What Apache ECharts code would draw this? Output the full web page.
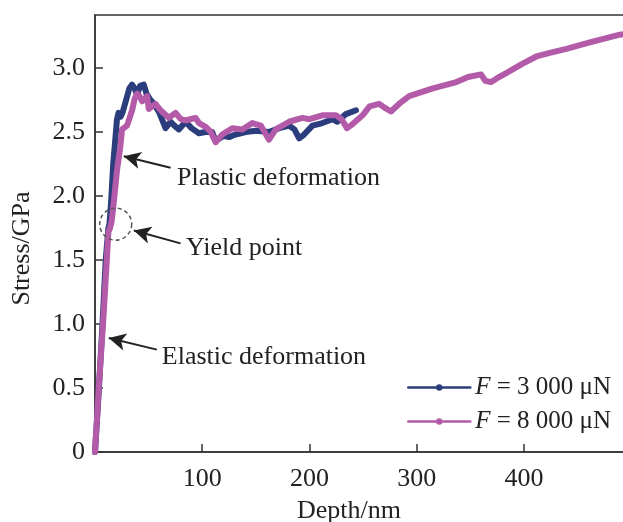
<!DOCTYPE html>
<html>
<head>
<meta charset="utf-8">
<script src="https://cdn.jsdelivr.net/npm/echarts@6/dist/echarts.min.js"></script>
<style>
html,body{margin:0;padding:0;background:#fff;}
#chart{width:623px;height:522px;}
</style>
</head>
<body>
<div id="chart"></div>
<script>
// ---- data ----
const seriesNames = ['F = 3 000 μN', 'F = 8 000 μN'];
const depth3000 = [0,3,7,10,12.5,13.5,15,17,19,20.5,22,24,26,29,32,34.6,37,39.3,42,45.5,48,51.8,55,60,65.8,70.5,74,78.2,84.5,90,96.9,103,109.3,112.5,120,125,131,140.6,150,162,172,181,186,190.4,195,202.8,212,221.5,226,234,243.4];
const stress3000 = [0,0.4,1.0,1.5,1.75,1.78,1.95,2.25,2.45,2.6,2.65,2.62,2.66,2.75,2.84,2.87,2.84,2.79,2.86,2.87,2.8,2.75,2.72,2.65,2.53,2.58,2.55,2.52,2.58,2.53,2.49,2.5,2.5,2.43,2.47,2.46,2.48,2.5,2.51,2.5,2.53,2.55,2.52,2.45,2.48,2.55,2.57,2.6,2.58,2.64,2.67];
const depth8000 = [0,3.5,7.5,11,12.5,14,15.5,17.5,20.5,23.7,25.2,29.9,34.6,37,39.3,41.5,43.9,48.6,50.2,56.4,61.1,65,68.9,75.1,80,84.5,93.8,97,103.2,108,112.5,118.7,128,137.4,146.7,154.6,162.3,168.6,181,193.4,200,212,224.7,230,235,240,249.6,256,265,270,276,285,293,315,337,348,360,364,369.5,375,383.5,398,411.6,425,439.6,461.4,475,489.4,497];
const stress8000 = [0,0.5,1.0,1.5,1.72,1.75,1.8,1.95,2.2,2.39,2.52,2.55,2.67,2.76,2.8,2.78,2.74,2.78,2.68,2.72,2.67,2.64,2.61,2.65,2.6,2.59,2.61,2.57,2.54,2.5,2.42,2.48,2.53,2.52,2.57,2.55,2.44,2.52,2.58,2.61,2.6,2.63,2.63,2.6,2.53,2.56,2.63,2.7,2.72,2.69,2.66,2.73,2.78,2.84,2.89,2.93,2.95,2.9,2.89,2.92,2.96,3.03,3.09,3.12,3.15,3.2,3.23,3.26,3.27];
const xTicks = [100,200,300,400];
const yTicks = [0,0.5,1.0,1.5,2.0,2.5,3.0];
// annotations: label text, arrow tail, arrow tip, text anchor (data coords)
const annotations = [
  {text:'Plastic deformation', tail:[70.5,2.22], tip:[26.8,2.31], at:[76.5,2.14]},
  {text:'Yield point', tail:[79.8,1.63], tip:[36.2,1.73], at:[84.8,1.59]},
  {text:'Elastic deformation', tail:[57.7,0.80], tip:[12.8,0.89], at:[62.3,0.74]}
];
const yieldCircle = [19.3,1.78];

const FONT = '"Liberation Serif","Times New Roman",serif';
const zip = (a,b)=>a.map((v,i)=>[v,b[i]]);

const chart = echarts.init(document.getElementById('chart'));
chart.setOption({
  animation:false,
  backgroundColor:'#fff',
  grid:{left:95,right:-6,top:15,bottom:70,outerBoundsMode:'none',containLabel:false,
    show:true,borderColor:'#333',borderWidth:1.5,backgroundColor:'transparent'},
  xAxis:{
    type:'value',min:0,max:498,
    name:'Depth/nm',nameLocation:'middle',nameGap:46,
    nameTextStyle:{fontFamily:FONT,fontSize:26,color:'#222',padding:[0,26,0,0]},
    axisLine:{lineStyle:{color:'#333',width:1.5}},
    axisTick:{inside:true,length:8,customValues:xTicks,lineStyle:{color:'#333',width:1.5}},
    axisLabel:{customValues:xTicks,margin:14,fontFamily:FONT,fontSize:26,color:'#222'},
    splitLine:{show:false}
  },
  yAxis:{
    type:'value',min:0,max:3.414,
    name:'Stress/GPa',nameLocation:'middle',nameGap:60,
    nameTextStyle:{fontFamily:FONT,fontSize:26,color:'#222',padding:[0,0,0,-30]},
    axisLine:{lineStyle:{color:'#333',width:1.5}},
    axisTick:{inside:true,length:8,customValues:yTicks,lineStyle:{color:'#333',width:1.5}},
    axisLabel:{customValues:yTicks,margin:10,fontFamily:FONT,fontSize:26,color:'#222',
      formatter:v=>v===0?'0':v.toFixed(1)},
    splitLine:{show:false}
  },
  legend:{
    orient:'vertical',left:402,top:370,itemWidth:62,itemHeight:8,itemGap:9,
    data:seriesNames,
    lineStyle:{width:2.5},
    formatter:n=>'{i|F} '+n.slice(2),
    textStyle:{fontFamily:FONT,fontSize:25,color:'#222',
      rich:{i:{fontFamily:FONT,fontSize:25,fontStyle:'italic',color:'#222'}}}
  },
  series:[
    {name:seriesNames[0],type:'line',data:zip(depth3000,stress3000),symbol:'circle',symbolSize:6,showSymbol:false,
     color:'#2b3d7c',lineStyle:{width:6,color:'#2b3d7c',cap:'round',join:'round'},z:2},
    {name:seriesNames[1],type:'line',data:zip(depth8000,stress8000),symbol:'circle',symbolSize:6,showSymbol:false,
     color:'#b35ba8',lineStyle:{width:6,color:'#b35ba8',cap:'round',join:'round'},z:3,
     markLine:{silent:true,symbol:['none','arrow'],symbolSize:[13,17],
       lineStyle:{color:'#222',width:2,type:'solid'},label:{show:false},
       data:annotations.map(a=>[{coord:a.tail},{coord:a.tip}])},
     markPoint:{silent:true,
       data:annotations.map(a=>({coord:a.at,symbol:'circle',symbolSize:0,
         label:{show:true,position:'right',distance:0,formatter:a.text,fontFamily:FONT,fontSize:26,color:'#222'}}))
       .concat([{coord:yieldCircle,symbol:'circle',symbolSize:32,
         itemStyle:{color:'transparent',borderColor:'#555',borderWidth:1.5,borderType:[4,3]},label:{show:false}}])}
    }
  ]
});
</script>
</body>
</html>
